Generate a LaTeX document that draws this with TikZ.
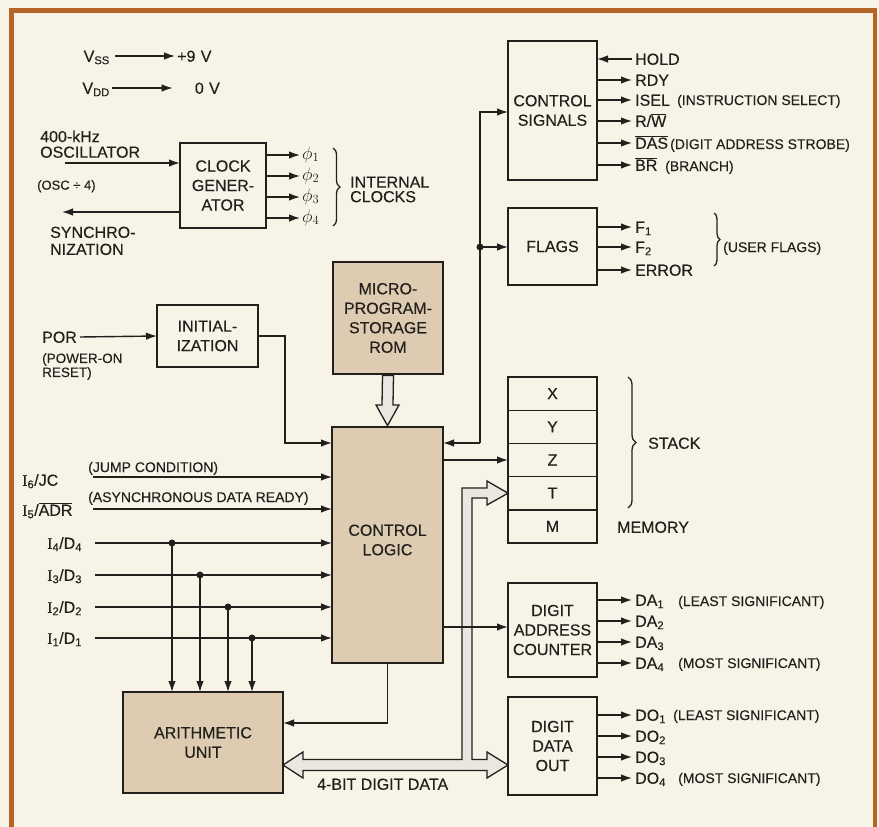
\RequirePackage{fix-cm}
\documentclass[tikz,border=0pt]{standalone}
\usepackage{fontspec}
\setmainfont{Liberation Sans}[UprightFeatures={FakeBold=0.25}]
\newfontfamily\serifI{Liberation Serif}[UprightFeatures={FakeBold=0.25}]
\usetikzlibrary{arrows.meta,decorations.pathreplacing,calc}
\definecolor{cream}{RGB}{248,243,231}
\definecolor{framec}{RGB}{181,101,38}
\definecolor{boxtan}{RGB}{221,204,178}
\definecolor{ink}{RGB}{35,31,28}
\definecolor{busfill}{RGB}{233,231,223}
\newcommand\bigtxt{\fontsize{16}{19.5}\selectfont}
\newcommand\smtxt{\fontsize{14}{16}\selectfont}
\newcommand\ovl[1]{\ensuremath{\overline{\hbox{#1}}}}
\begin{document}
\begin{tikzpicture}[x=1pt,y=-1pt,
  >={Latex[length=11pt,width=7.5pt]},
  box/.style={draw=ink,line width=2.9pt,fill=cream,inner sep=0pt,outer sep=0pt,align=center,font=\bigtxt,text=ink},
  shadebox/.style={box,fill=boxtan},
  wire/.style={draw=ink,line width=1.4pt},
  arr/.style={wire,->},
  lbl/.style={inner sep=0pt,anchor=west,font=\bigtxt,text=ink,text height=11.5pt,text depth=0pt},
  note/.style={inner sep=0pt,anchor=west,font=\smtxt,text=ink,text height=10pt,text depth=0pt},
  ml/.style={inner sep=0pt,anchor=north west,align=left,text=ink},
  cell/.style={draw=ink,line width=1.4pt,minimum width=89pt,minimum height=33.2pt,inner sep=0pt,outer sep=0pt,font=\bigtxt,text=ink},
  jdot/.style={circle,fill=ink,inner sep=0pt,minimum size=7pt},
  brc/.style={draw=ink,line width=1.3pt,decorate,decoration={brace,amplitude=#1}},
  brc/.default=7pt,
  bus/.style={draw=ink,line width=1.3pt,fill=busfill,line join=miter}
]
% background and frame
\fill[cream] (0,0) rectangle (879,827);
\useasboundingbox (0,0) rectangle (879,827);
\draw[framec,line width=4.5pt] (11.5,827) -- (11.5,10.5) -- (875,10.5) -- (875,827);

% ---------- blocks ----------
\node[box,minimum width=86pt,minimum height=85pt] (clk) at (223,185.5) {CLOCK\\GENER-\\ATOR};
\node[box,minimum width=89pt,minimum height=139pt] (ctrl) at (552.5,110.5) {CONTROL\\SIGNALS};
\node[box,minimum width=89pt,minimum height=77pt] (flags) at (552.5,246.5) {FLAGS};
\node[box,minimum width=101pt,minimum height=62pt] (init) at (207.5,336) {INITIAL-\\IZATION};
\node[shadebox,minimum width=110pt,minimum height=112pt] (rom) at (388,318) {MICRO-\\PROGRAM-\\STORAGE\\ROM};
\node[shadebox,minimum width=111pt,minimum height=236pt] (cl) at (387.5,545) {};
\node[font=\bigtxt,align=center,text=ink,inner sep=0pt] (cltxt) at (387.5,540) {CONTROL\\LOGIC};
\node[shadebox,minimum width=160pt,minimum height=101pt] (au) at (203,742.5) {ARITHMETIC\\UNIT};
\node[box,minimum width=89pt,minimum height=94pt] (dac) at (552.5,630) {DIGIT\\ADDRESS\\COUNTER};
\node[box,minimum width=89pt,minimum height=98pt] (ddo) at (552.5,746) {DIGIT\\DATA\\OUT};
% stack
\node[cell] (sx) at (552.5,393.6) {X};
\node[cell] (sy) at (552.5,426.8) {Y};
\node[cell] (sz) at (552.5,460) {Z};
\node[cell] (st) at (552.5,493.2) {T};
\node[cell] (sm) at (552.5,526.4) {M};
\draw[draw=ink,line width=2.9pt] (sx.north west) rectangle (sm.south east);
\draw[brc=8pt] (628,377) -- (628,508);
\node[lbl] (stk) at (648,443) {STACK};
\node[lbl] (mem) at (617,527) {MEMORY};

% ---------- power ----------
\node[lbl,anchor=east] (vss) at (110,56) {V\textsubscript{SS}};
\node[lbl] (p9v) at (177,56) {+9\,\,V};
\draw[arr] ([xshift=5pt]vss.east) -- ([xshift=-2pt]p9v.west);
\node[lbl,anchor=east] (vdd) at (110,88) {V\textsubscript{DD}};
\node[lbl,anchor=east] (zv) at (220,88) {0\,\,V};
\draw[arr] ([xshift=2pt]vdd.east) -- ([xshift=-22pt]zv.west);

% ---------- clock ----------
\coordinate (oscin) at (65,163);
\draw[arr] (oscin) -- (oscin -| clk.west);
\coordinate (syncout) at (62,212);
\draw[arr] (syncout -| clk.west) -- (syncout);
\node[ml,font=\fontsize{16}{15.6}\selectfont] (osclbl) at (40,130.3) {400-kHz\\OSCILLATOR};
\node[note,font=\fontsize{13}{15}\selectfont,text height=9.3pt] (div) at (37,185) {(OSC ÷ 4)};
\node[ml,font=\fontsize{16}{17}\selectfont] (synclbl) at (50,226.5) {SYNCHRO-\\NIZATION};
\foreach \i/\y in {1/155,2/176,3/197,4/218}{
  \coordinate (ph\i) at (300,\y);
  \draw[arr] (clk.east |- ph\i) -- (ph\i);
  \node[lbl,text height=8.5pt,font=\fontsize{18}{20}\selectfont] (phl\i) at ([xshift=2pt]ph\i) {$\phi_{\i}$};
}
\draw[brc] (333,148) -- (333,226);
\node[ml,font=\fontsize{16}{14.5}\selectfont] (intclk) at (350,176.5) {INTERNAL\\CLOCKS};

% ---------- control signals ----------
\foreach \n/\y in {hold/59,rdy/80,isel/100,rw/121,das/143,br/165}
  \coordinate (c\n) at (632,\y);
\draw[arr] (chold) -- (chold -| ctrl.east);
\foreach \n in {rdy,isel,rw,das,br}
  \draw[arr] (c\n -| ctrl.east) -- (c\n);
\node[lbl] (lhold) at ([xshift=3pt]chold) {HOLD};
\node[lbl] (lrdy) at ([xshift=3pt]crdy) {RDY};
\node[lbl] (lisel) at ([xshift=3pt]cisel) {ISEL};
\node[lbl] (lrw) at ([xshift=3pt]crw) {R/\ovl{W}};
\node[lbl] (ldas) at ([xshift=3pt]cdas) {\ovl{DAS}};
\node[lbl] (lbr) at ([xshift=3pt]cbr) {\ovl{BR}};
\node[note] (nisel) at (677,100) {(INSTRUCTION SELECT)};
\node[note] (ndas) at (670,144) {(DIGIT ADDRESS STROBE)};
\node[note] (nbr) at (665,166) {(BRANCH)};

% ---------- flags ----------
\foreach \n/\y/\t in {f1/227/F\textsubscript{1},f2/247/F\textsubscript{2},er/270/ERROR}{
  \coordinate (c\n) at (632,\y);
  \draw[arr] (c\n -| flags.east) -- (c\n);
  \node[lbl] (l\n) at ([xshift=3pt]c\n) {\t};
}
\draw[brc=6pt] (714,213) -- (714,266);
\node[note] (nuf) at (723,247) {(USER FLAGS)};

% ---------- ROM to control logic ----------
\draw[bus] ($(rom.south)+(-5.5,1.4)$) -- ($(rom.south)+(5.5,1.4)$) -- ($(cl.north)+(5.5,-22)$) -- ($(cl.north)+(11.5,-22)$) -- ($(cl.north)+(0,-1.4)$) -- ($(cl.north)+(-11.5,-22)$) -- ($(cl.north)+(-5.5,-22)$) -- cycle;

% ---------- data bus ----------
\draw[bus] (au.east |- 0,765) -- (303,752) -- (303,759.5) -- (462,759.5) -- (462,488) -- (487,488) -- (487,481) -- (st.west) -- (487,505) -- (487,498) -- (472,498) -- (472,759.5) -- (487,759.5) -- (487,752) -- (ddo.west |- 0,765) -- (487,778) -- (487,770.5) -- (303,770.5) -- (303,778) -- cycle;
\node[lbl] (buslbl) at (317,784) {4-BIT DIGIT DATA};

% ---------- internal bus line ----------
\coordinate (bj) at (480,443);
\coordinate (fj) at (480,247);
\draw[arr] (bj) |- (ctrl.west |- 0,112);
\draw[arr] (fj) -- (fj -| flags.west);
\draw[arr] (bj) -- (bj -| cl.east);
\node[jdot] (fjd) at (fj) {};

% ---------- initialization ----------
\node[lbl] (por) at (42,337) {POR};
\draw[arr] ([xshift=3pt]por.east) -- (init.west);
\node[ml,font=\fontsize{13.5}{14}\selectfont] (porn) at (42,353) {(POWER-ON\\RESET)};
\draw[arr] (init.east) -| (285,443) -- (cl.west |- 0,443);

% ---------- control logic outputs ----------
\draw[arr] (cl.east |- sz) -- (sz.west);
\draw[arr] (cl.east |- 0,627) -- (dac.west |- 0,627);
\draw[arr] (cl.south) |- (au.east |- 0,723);

% ---------- inputs ----------
\node[lbl] (i6) at (22,480) {{\serifI I}\textsubscript{6}/JC};
\coordinate (jc) at (93,477);
\draw[arr] (jc) -- (jc -| cl.west);
\node[note] (njc) at (88,467) {(JUMP CONDITION)};
\node[lbl] (i5) at (22,510) {{\serifI I}\textsubscript{5}/\ovl{ADR}};
\coordinate (adr) at (93,509);
\draw[arr] (adr) -- (adr -| cl.west);
\node[note] (nadr) at (88,497) {(ASYNCHRONOUS DATA READY)};
\foreach \i/\y/\x in {4/543/172,3/575/200,2/607/228,1/638/252}{
  \node[lbl] (in\i) at (47,\y) {{\serifI I}\textsubscript{\i}/D\textsubscript{\i}};
  \coordinate (ins\i) at (95,\y);
  \draw[arr] (ins\i) -- (ins\i -| cl.west);
  \coordinate (tap\i) at (\x,\y);
  \draw[arr] (tap\i) -- (tap\i |- au.north);
  \node[jdot] (td\i) at (tap\i) {};
}

% ---------- digit address counter ----------
\foreach \i/\y in {1/600,2/621,3/642,4/663}{
  \coordinate (da\i) at (632,\y);
  \draw[arr] (da\i -| dac.east) -- (da\i);
  \node[lbl] (lda\i) at ([xshift=3pt]da\i) {DA\textsubscript{\i}};
}
\node[note] (nda1) at (678,601) {(LEAST SIGNIFICANT)};
\node[note] (nda4) at (678,663) {(MOST SIGNIFICANT)};

% ---------- digit data out ----------
\foreach \i/\y in {1/715,2/736,3/757,4/778}{
  \coordinate (do\i) at (632,\y);
  \draw[arr] (do\i -| ddo.east) -- (do\i);
  \node[lbl] (ldo\i) at ([xshift=3pt]do\i) {DO\textsubscript{\i}};
}
\node[note] (ndo1) at (673,715) {(LEAST SIGNIFICANT)};
\node[note] (ndo4) at (678,778) {(MOST SIGNIFICANT)};
\end{tikzpicture}
\end{document}
